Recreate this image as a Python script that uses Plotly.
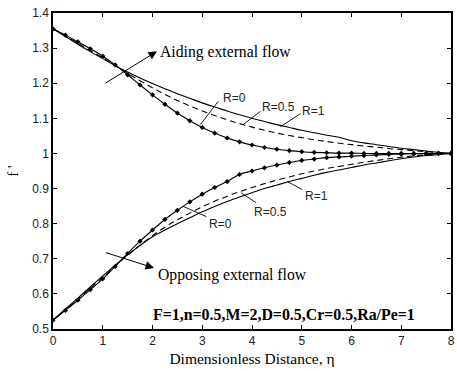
import plotly.graph_objects as go

# Dimensionless distance eta
eta = [0, 0.25, 0.5, 0.75, 1, 1.25, 1.5, 1.75, 2, 2.25, 2.5, 2.75, 3, 3.25, 3.5, 3.75,
       4, 4.25, 4.5, 4.75, 5, 5.25, 5.5, 5.75, 6, 6.25, 6.5, 6.75, 7, 7.25, 7.5, 7.75, 8]

# Aiding external flow, f'
aid_R0 = [1.355, 1.337, 1.318, 1.298, 1.277, 1.252, 1.224, 1.195, 1.167, 1.140, 1.115,
          1.093, 1.074, 1.058, 1.044, 1.033, 1.024, 1.017, 1.012, 1.008, 1.005, 1.003,
          1.002, 1.001, 1.001, 1.000, 1.000, 1.000, 1.000, 1.000, 1.000, 1.000, 1.000]
aid_R05 = [1.355, 1.335, 1.314, 1.293, 1.272, 1.250, 1.228, 1.207, 1.187, 1.168, 1.151,
           1.135, 1.121, 1.108, 1.096, 1.085, 1.075, 1.066, 1.058, 1.051, 1.045, 1.039,
           1.034, 1.029, 1.025, 1.021, 1.018, 1.014, 1.011, 1.008, 1.005, 1.002, 1.000]
aid_R1 = [1.355, 1.333, 1.311, 1.290, 1.270, 1.250, 1.232, 1.215, 1.199, 1.184, 1.170,
          1.157, 1.144, 1.132, 1.121, 1.110, 1.100, 1.091, 1.082, 1.074, 1.066, 1.059,
          1.052, 1.046, 1.036, 1.030, 1.025, 1.020, 1.015, 1.011, 1.007, 1.003, 1.000]

# Opposing external flow, f'
opp_R0 = [0.525, 0.553, 0.582, 0.612, 0.643, 0.678, 0.715, 0.750, 0.782, 0.812, 0.838,
          0.862, 0.884, 0.903, 0.920, 0.940, 0.950, 0.959, 0.967, 0.974, 0.980, 0.984,
          0.988, 0.990, 0.992, 0.994, 0.996, 0.997, 0.998, 0.999, 0.999, 1.000, 1.000]
opp_R05 = [0.525, 0.555, 0.585, 0.616, 0.647, 0.679, 0.710, 0.739, 0.766, 0.790, 0.811,
           0.830, 0.848, 0.864, 0.878, 0.891, 0.903, 0.914, 0.924, 0.933, 0.942, 0.950,
           0.957, 0.963, 0.969, 0.975, 0.980, 0.985, 0.989, 0.993, 0.996, 0.998, 1.000]
opp_R1 = [0.525, 0.557, 0.588, 0.620, 0.651, 0.682, 0.711, 0.738, 0.763, 0.782, 0.800,
          0.817, 0.834, 0.849, 0.863, 0.876, 0.888, 0.900, 0.910, 0.920, 0.929, 0.938,
          0.946, 0.953, 0.960, 0.967, 0.973, 0.979, 0.985, 0.990, 0.994, 0.997, 1.000]

x_ticks = [0, 1, 2, 3, 4, 5, 6, 7, 8]
y_ticks = [0.5, 0.6, 0.7, 0.8, 0.9, 1.0, 1.1, 1.2, 1.3, 1.4]
y_tick_text = ["0.5", "0.6", "0.7", "0.8", "0.9", "1", "1.1", "1.2", "1.3", "1.4"]

fig = go.Figure()

line_w = 1.1
for ys in (aid_R0, opp_R0):
    fig.add_trace(go.Scatter(x=eta, y=ys, mode="lines+markers",
                             line=dict(color="black", width=line_w, shape="spline"),
                             marker=dict(symbol="diamond", size=4, color="black")))
for ys in (aid_R05, opp_R05):
    fig.add_trace(go.Scatter(x=eta, y=ys, mode="lines",
                             line=dict(color="black", width=line_w, dash="6px,4px", shape="spline")))
for ys in (aid_R1, opp_R1):
    fig.add_trace(go.Scatter(x=eta, y=ys, mode="lines",
                             line=dict(color="black", width=line_w, shape="spline")))

serif = "Liberation Serif, Times New Roman, serif"
sans = "Liberation Sans, Arial, sans-serif"

annotations = []
shapes = []

# Flow-direction arrows (head x/y, tail ax/ay) and their captions
flow_notes = [
    ("Aiding external flow", (2.09, 1.291), (1.03, 1.198), (2.12, 1.289)),
    ("Opposing external flow", (2.03, 0.674), (1.03, 0.719), (2.07, 0.655)),
]
for text, head, tail, pos in flow_notes:
    annotations.append(dict(x=head[0], y=head[1], xref="x", yref="y", text="",
                            showarrow=True, ax=tail[0], ay=tail[1], axref="x", ayref="y",
                            arrowhead=2, arrowsize=1.7, arrowwidth=1, arrowcolor="black",
                            standoff=0))
    annotations.append(dict(x=pos[0], y=pos[1], xref="x", yref="y", text=text,
                            showarrow=False, xanchor="left", yanchor="middle",
                            font=dict(family=serif, size=15.7, color="black")))

# Parameter caption
annotations.append(dict(x=4.64, y=0.540, xref="x", yref="y",
                        text="<b>F=1,n=0.5,M=2,D=0.5,Cr=0.5,Ra/Pe=1</b>",
                        showarrow=False, xanchor="center", yanchor="middle",
                        font=dict(family=serif, size=15.9, color="black")))

# Curve labels: (text, label position, leader start, leader end)
curve_labels = [
    ("R=0", (3.65, 1.159), (2.96, 1.082), (3.32, 1.148)),
    ("R=0.5", (4.53, 1.132), (3.82, 1.082), (4.17, 1.120)),
    ("R=1", (5.23, 1.122), (4.57, 1.076), (4.97, 1.113)),
    ("R=0", (3.36, 0.798), (2.62, 0.849), (3.08, 0.820)),
    ("R=0.5", (4.37, 0.834), (3.78, 0.888), (4.08, 0.860)),
    ("R=1", (5.29, 0.879), (4.71, 0.920), (5.01, 0.897)),
]
for text, pos, p0, p1 in curve_labels:
    annotations.append(dict(x=pos[0], y=pos[1], xref="x", yref="y", text=text,
                            showarrow=False, xanchor="center", yanchor="middle",
                            font=dict(family=sans, size=12, color="#222")))
    shapes.append(dict(type="line", xref="x", yref="y", x0=p0[0], y0=p0[1],
                       x1=p1[0], y1=p1[1], line=dict(color="black", width=0.9)))

fig.update_layout(
    width=457, height=371,
    margin=dict(l=53, r=2, t=13, b=42),
    paper_bgcolor="white", plot_bgcolor="white",
    showlegend=False,
    annotations=annotations,
    shapes=shapes,
    xaxis=dict(range=[0, 8], tickvals=x_ticks, ticks="inside", ticklen=4, tickwidth=1,
               tickcolor="black", showline=True, linecolor="black", linewidth=1.5,
               mirror="ticks", showgrid=False, zeroline=False,
               tickfont=dict(family=sans, size=12, color="#222"),
               title=dict(text="Dimensionless Distance, \u03b7", standoff=6,
                          font=dict(family=serif, size=15.5, color="black"))),
    yaxis=dict(range=[0.5, 1.4], tickvals=y_ticks, ticktext=y_tick_text, ticks="inside",
               ticklen=4, tickwidth=1, tickcolor="black", showline=True, linecolor="black",
               linewidth=1.5, mirror="ticks", showgrid=False, zeroline=False,
               tickfont=dict(family=sans, size=12, color="#222"),
               title=dict(text="f '", standoff=10,
                          font=dict(family=serif, size=15, color="black"))),
)

fig.write_html("out.html")
